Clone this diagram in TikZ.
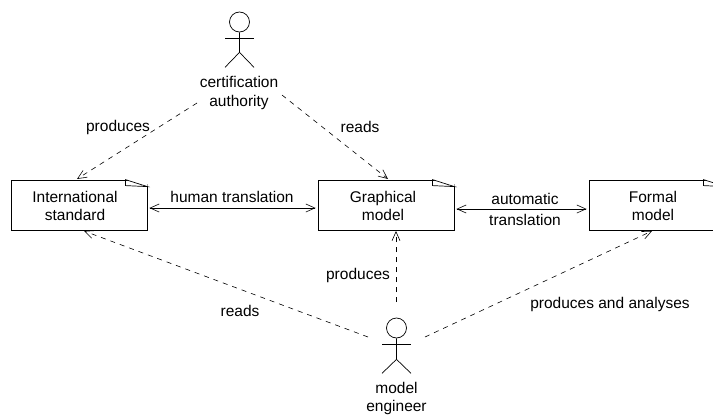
\documentclass[tikz,border=0pt]{standalone}
\usepackage{fontspec}
\setmainfont{Liberation Sans}
\usetikzlibrary{arrows.meta}
\tikzset{
  x=1pt,y=-1pt,
  doc/.style={draw=black,line width=0.8pt,rectangle,minimum height=50pt,inner sep=0pt},
  lab/.style={align=center,font=\fontsize{15.5}{18.5}\selectfont,inner sep=0pt},
  head/.style={draw=black,line width=0.7pt,circle,minimum size=20pt,inner sep=0pt},
  stick/.style={draw=black,line width=0.7pt},
  fold/.style={draw=black,line width=0.7pt},
  tipv/.tip={Straight Barb[length=9pt,width=8pt,line width=0.6pt]},
  dep/.style={draw=black,line width=0.6pt,dash pattern=on 5pt off 5pt,-{tipv}},
  link/.style={draw=black,line width=0.8pt,{tipv}-{tipv}}
}
\begin{document}
\begin{tikzpicture}
\useasboundingbox (0,0) rectangle (713,415);
\clip (0,0) rectangle (713,415);
% documents
\node[doc,minimum width=136pt] (std) at (79,205) {};
\node[doc,minimum width=136pt] (gra) at (386,205) {};
\node[doc,minimum width=136pt] (frm) at (657,205) {};
\foreach \n in {std,gra,frm}{
  \fill[white] ([xshift=-22pt]\n.north east) -- ([yshift=-7pt]\n.north east) -- ([xshift=1pt,yshift=1pt]\n.north east) -- cycle;
  \draw[fold] ([xshift=-22pt]\n.north east) -- ++(0,6) -- ([yshift=-7pt]\n.north east) -- cycle;
}
\node[lab] (stdt) at (75,206) {International\\standard};
\node[lab] (grat) at (383,206) {Graphical\\model};
\node[lab] (frmt) at (653,206) {Formal\\model};
% actors
\node[head] (ca) at (239.5,22) {};
\draw[stick] (ca.south) -- ++(0,20) coordinate (cah) -- ++(-14.5,15);
\draw[stick] (cah) -- ++(14.5,15);
\draw[stick] (225,38) coordinate (caal) -- (254,38) coordinate (caar);
\node[lab] (cal) at (239,93) {certification\\authority};
\node[head] (me) at (396.5,328) {};
\draw[stick] (me.south) -- ++(0,21) coordinate (meh) -- ++(-14.5,14);
\draw[stick] (meh) -- ++(14.5,14);
\draw[stick] (382,344) coordinate (meal) -- (411,344) coordinate (mear);
\node[lab] (mel) at (396.5,398.5) {model\\engineer};
% free ends
\coordinate (c1s) at (197,103);
\coordinate (c1e) at (77,179);
\coordinate (c2s) at (282,95);
\coordinate (c2e) at (388,179);
\coordinate (m1s) at (396,302);
\coordinate (m1e) at (396,231);
\coordinate (m2s) at (368,337);
\coordinate (m2e) at (84,231);
\coordinate (m3s) at (425,337);
\coordinate (m3e) at (652,231);
\draw[dep] (c1s) -- (c1e);
\draw[dep] (c2s) -- (c2e);
\draw[dep] (m1s) -- (m1e);
\draw[dep] (m2s) -- (m2e);
\draw[dep] (m3s) -- (m3e);
\draw[link] ([xshift=2pt,yshift=-3pt]std.east) -- ([xshift=-2pt,yshift=-3pt]gra.west);
\draw[link] ([xshift=2pt,yshift=-4pt]gra.east) -- ([xshift=-2pt,yshift=-4pt]frm.west);
% labels
\node[lab] (l1) at (118,127) {produces};
\node[lab] (l2) at (360,127) {reads};
\node[lab] (l3) at (232,197) {human translation};
\node[lab,font=\fontsize{15.5}{20.5}\selectfont] (l4) at (525,209.5) {automatic\\translation};
\node[lab] (l5) at (358,275) {produces};
\node[lab] (l6) at (240,311) {reads};
\node[lab] (l7) at (610,304) {produces and analyses};
\end{tikzpicture}
\end{document}
